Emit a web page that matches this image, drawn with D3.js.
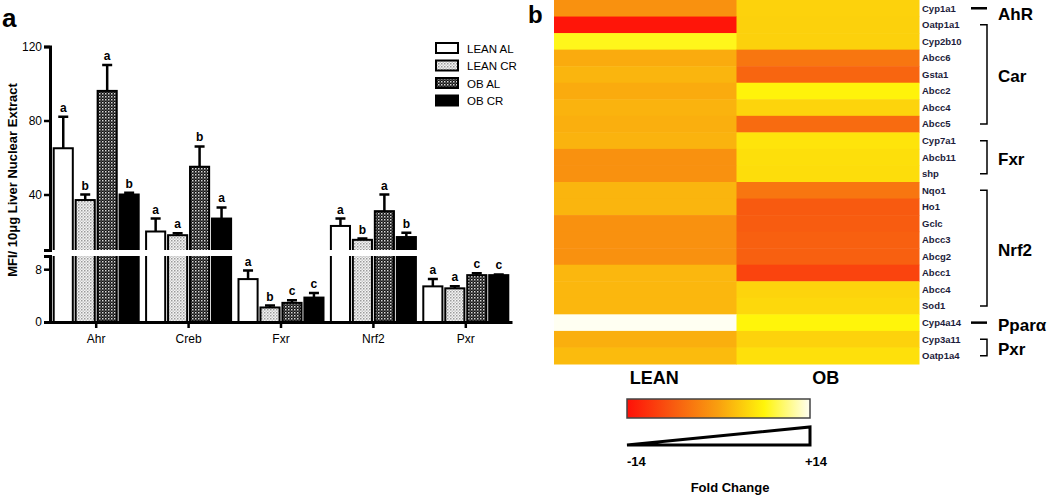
<!DOCTYPE html>
<html>
<head>
<meta charset="utf-8">
<script src="https://cdn.jsdelivr.net/npm/d3@7"></script>
<style>
  body { margin: 0; background: #fff; }
  svg { font-family: "Liberation Sans", Arial, sans-serif; }
</style>
</head>
<body>
<div class="chart"></div>
<script>
// panel a data
const categories = ["Ahr", "Creb", "Fxr", "Nrf2", "Pxr"];
const groups = ["LEAN AL", "LEAN CR", "OB AL", "OB CR"];
const leanAL = [65, 20, 6.5, 23, 5.4];
const leanCR = [37, 18, 2.2, 15.5, 5.1];
const obAL = [96, 55, 2.9, 31, 7.1];
const obCR = [40, 27, 3.7, 17, 7.1];
const leanALerr = [17, 7, 1.3, 4, 1.1];
const leanCRerr = [3, 1, 0.3, 0.7, 0.3];
const obALerr = [14, 11, 0.4, 9, 0.3];
const obCRerr = [1, 6, 0.7, 2.3, 0.1];
const letters = [
    ["a", "b", "a", "b"],
    ["a", "a", "b", "a"],
    ["a", "b", "c", "c"],
    ["a", "b", "a", "b"],
    ["a", "a", "c", "c"]
];
const lowTicks = [0, 8];
const highTicks = [40, 80, 120];

// panel b data
const genes = ["Cyp1a1", "Oatp1a1", "Cyp2b10", "Abcc6", "Gsta1", "Abcc2", "Abcc4", "Abcc5",
    "Cyp7a1", "Abcb11", "shp", "Nqo1", "Ho1", "Gclc", "Abcc3", "Abcg2", "Abcc1", "Abcc4 ",
    "Sod1", "Cyp4a14", "Cyp3a11", "Oatp1a4"];
const columns = ["LEAN", "OB"];
const leanFold = [-1.5, -13.5, 7.5, 0.9, 1.7, 0.9, 1.6, 1.2, 1.6, -1.5, -1.5, 1.7, 1.7, -1.5, -1.5, -1.5, 1.9, 1.9, 1.9, 14, 1.2, 2.2];
const obFold = [4.1, 4.0, 4.0, -4.2, -5.9, 6.8, 4.3, -5.3, 5.6, 5.2, 5.0, -4.2, -7.0, -6.8, -6.4, -6.4, -9.1, 4.3, 4.6, 7.0, 4.1, 5.3];
const receptors = ["AhR", "Car", "Fxr", "Nrf2", "Pparα", "Pxr"];
const receptorFirst = ["Cyp1a1", "Oatp1a1", "Cyp7a1", "Nqo1", "Cyp4a14", "Cyp3a11"];
const receptorLast = ["Cyp1a1", "Abcc5", "shp", "Sod1", "Cyp4a14", "Oatp1a4"];
const foldTicks = [-14, 14];

const width = 1050, height = 497;
const svg = d3.select('.chart').append('svg')
    .attr('width', width).attr('height', height);

const defs = svg.append('defs');
// light dotted fill (LEAN CR)
const p1 = defs.append('pattern').attr('id', 'dotLight')
    .attr('width', 3).attr('height', 3).attr('patternUnits', 'userSpaceOnUse');
p1.append('rect').attr('width', 3).attr('height', 3).attr('fill', '#f4f4f4');
p1.append('rect').attr('width', 1.5).attr('height', 1.5).attr('fill', '#9a9a9a');
p1.append('rect').attr('x', 1.5).attr('y', 1.5).attr('width', 1.5).attr('height', 1.5).attr('fill', '#c8c8c8');
// dark dotted fill (OB AL)
const p2 = defs.append('pattern').attr('id', 'dotDark')
    .attr('width', 3).attr('height', 3).attr('patternUnits', 'userSpaceOnUse');
p2.append('rect').attr('width', 3).attr('height', 3).attr('fill', '#111');
p2.append('rect').attr('width', 1.5).attr('height', 1.5).attr('fill', '#d8d8d8');
p2.append('rect').attr('x', 1.5).attr('y', 1.5).attr('width', 1.2).attr('height', 1.2).attr('fill', '#777');

const fills = ['#fff', 'url(#dotLight)', 'url(#dotDark)', '#000'];

// ---------- panel a ----------
svg.append('text').attr('x', 2).attr('y', 27).text('a')
    .style('font-size', '26px').style('font-weight', 'bold');

const xScale = d3.scaleBand().domain(categories).range([50, 512]).paddingInner(0.08).paddingOuter(0.04);
const xInner = d3.scaleBand().domain(groups).range([0, xScale.bandwidth()]).paddingInner(0.13);

const yLow = d3.scaleLinear().domain([0, 10]).range([322, 256]);
const yHigh = d3.scaleLinear().domain([10, 120]).range([250, 46.5]);
const y = v => v <= 10 ? yLow(v) : yHigh(v);

const means = [leanAL, leanCR, obAL, obCR];
const errs = [leanALerr, leanCRerr, obALerr, obCRerr];
const bars = [];
categories.forEach((c, i) => {
    groups.forEach((g, j) => {
        bars.push({cat: c, group: g, gi: j, value: means[j][i], err: errs[j][i], letter: letters[i][j]});
    });
});

const plot = svg.append('g');

plot.selectAll('.bar')
    .data(bars)
    .enter()
    .append('rect')
    .attr('x', d => xScale(d.cat) + xInner(d.group))
    .attr('y', d => y(d.value))
    .attr('width', xInner.bandwidth())
    .attr('height', d => y(0) - y(d.value))
    .attr('fill', d => fills[d.gi])
    .attr('stroke', '#000')
    .attr('stroke-width', 2);

// error bars
plot.selectAll('.err')
    .data(bars)
    .enter()
    .append('path')
    .attr('d', d => {
        const cx = xScale(d.cat) + xInner(d.group) + xInner.bandwidth() / 2;
        const t = y(d.value + d.err);
        return `M${cx},${y(d.value)}V${t}M${cx - 5},${t}H${cx + 5}`;
    })
    .attr('stroke', '#000')
    .attr('stroke-width', 2.5)
    .attr('fill', 'none');

plot.selectAll('.letter')
    .data(bars)
    .enter()
    .append('text')
    .attr('x', d => xScale(d.cat) + xInner(d.group) + xInner.bandwidth() / 2)
    .attr('y', d => y(d.value + d.err) - 5)
    .attr('text-anchor', 'middle')
    .style('font-size', '12px')
    .style('font-weight', 'bold')
    .text(d => d.letter);

// axis break gap
plot.append('rect')
    .attr('x', 44).attr('y', yHigh(10)).attr('width', 472).attr('height', yLow(10) - yHigh(10))
    .attr('fill', '#fff');

const axLow = svg.append('g').attr('transform', 'translate(50,0)')
    .call(d3.axisLeft(yLow).tickValues(lowTicks).tickSize(6).tickSizeOuter(6));
const axHigh = svg.append('g').attr('transform', 'translate(50,0)')
    .call(d3.axisLeft(yHigh).tickValues(highTicks).tickSize(6).tickSizeOuter(6));
[axLow, axHigh].forEach(ax => {
    ax.select('.domain').attr('stroke-width', 3);
    ax.selectAll('.tick line').attr('stroke-width', 2.5);
    ax.selectAll('.tick text').style('font-size', '12px').attr('x', -8)
        .style('font-family', '"Liberation Sans", Arial, sans-serif');
});

const xAx = svg.append('g').attr('transform', `translate(0,${y(0)})`)
    .call(d3.axisBottom(xScale).tickSize(6).tickSizeOuter(0));
xAx.select('.domain').attr('stroke-width', 3);
xAx.selectAll('.tick line').attr('stroke-width', 2.5);
xAx.selectAll('.tick text').style('font-size', '12px').attr('y', 12)
    .style('font-family', '"Liberation Sans", Arial, sans-serif');

svg.append('text')
    .attr('transform', 'translate(17,180) rotate(-90)')
    .attr('text-anchor', 'middle')
    .style('font-size', '13px').style('font-weight', 'bold')
    .text('MFI/ 10μg Liver Nuclear Extract');

// legend
const legend = svg.append('g');
legend.selectAll('rect')
    .data(groups)
    .enter()
    .append('rect')
    .attr('x', 436)
    .attr('y', (d, i) => 43 + i * 17.5)
    .attr('width', 22).attr('height', 10)
    .attr('fill', (d, i) => fills[i])
    .attr('stroke', '#000').attr('stroke-width', 2);
legend.selectAll('text')
    .data(groups)
    .enter()
    .append('text')
    .attr('x', 467)
    .attr('y', (d, i) => 52.5 + i * 17.5)
    .style('font-size', '11.5px')
    .text(d => d);

// ---------- panel b ----------
svg.append('text').attr('x', 528).attr('y', 23).text('b')
    .style('font-size', '24px').style('font-weight', 'bold');

const colorScale = d3.scaleLinear()
    .domain([-14, -7, 0, 7, 14])
    .range(['#ff1008', '#f85a10', '#f9a00f', '#fff50a', '#fffff2']);

const hx = d3.scaleBand().domain(columns).range([554, 919]);
const hy = d3.scaleBand().domain(genes).range([0, 364]);

const cells = [];
genes.forEach((g, i) => {
    cells.push({col: 'LEAN', gene: g, v: leanFold[i]});
    cells.push({col: 'OB', gene: g, v: obFold[i]});
});

svg.selectAll('.cell')
    .data(cells)
    .enter()
    .append('rect')
    .attr('x', d => hx(d.col))
    .attr('y', d => hy(d.gene))
    .attr('width', hx.bandwidth() + 0.5)
    .attr('height', hy.bandwidth() + 0.5)
    .attr('fill', d => colorScale(d.v));

svg.selectAll('.gene')
    .data(genes)
    .enter()
    .append('text')
    .attr('x', 922)
    .attr('y', d => hy(d) + hy.bandwidth() / 2)
    .attr('dy', '0.35em')
    .style('font-size', '9.5px').style('font-weight', 'bold')
    .attr('fill', '#1c1c3a')
    .text(d => d.trim());

svg.selectAll('.col')
    .data(columns)
    .enter()
    .append('text')
    .attr('x', d => hx(d) + hx.bandwidth() / 2 + (d === 'LEAN' ? 9 : -2))
    .attr('y', 384)
    .attr('text-anchor', 'middle')
    .style('font-size', '18px').style('font-weight', 'bold')
    .text(d => d);

// receptor brackets
receptors.forEach((r, i) => {
    const y0 = hy(receptorFirst[i]) + hy.bandwidth() / 2;
    const y1 = hy(receptorLast[i]) + hy.bandwidth() / 2;
    if (receptorFirst[i] === receptorLast[i]) {
        svg.append('line').attr('x1', 971).attr('x2', 987).attr('y1', y0).attr('y2', y0)
            .attr('stroke', '#000').attr('stroke-width', 2.5);
    } else {
        svg.append('path')
            .attr('d', `M980,${y0}H987V${y1}H980`)
            .attr('fill', 'none').attr('stroke', '#000').attr('stroke-width', 1.5);
    }
    svg.append('text')
        .attr('x', 998)
        .attr('y', (y0 + y1) / 2 + (i === 0 ? 6 : 2))
        .attr('dy', '0.35em')
        .style('font-size', '17px').style('font-weight', 'bold')
        .text(r);
});

// colour legend
const grad = defs.append('linearGradient').attr('id', 'foldGrad');
colorScale.domain().forEach(v => {
    grad.append('stop')
        .attr('offset', ((v + 14) / 28 * 100) + '%')
        .attr('stop-color', colorScale(v));
});
const lx = d3.scaleLinear().domain([-14, 14]).range([627, 810]);
svg.append('rect')
    .attr('x', lx(-14)).attr('y', 399)
    .attr('width', lx(14) - lx(-14)).attr('height', 19)
    .attr('fill', 'url(#foldGrad)')
    .attr('stroke', '#444').attr('stroke-width', 1.5);
svg.append('path')
    .attr('d', `M${lx(-14)},445L${lx(14)},445L${lx(14)},427Z`)
    .attr('fill', '#fff').attr('stroke', '#000').attr('stroke-width', 3)
    .attr('stroke-linejoin', 'miter');
svg.selectAll('.ftick')
    .data(foldTicks)
    .enter()
    .append('text')
    .attr('x', d => d < 0 ? lx(d) : lx(d) + 6)
    .attr('y', 466)
    .attr('text-anchor', d => d < 0 ? 'start' : 'middle')
    .style('font-size', '13px').style('font-weight', 'bold')
    .text(d => d < 0 ? String(d) : '+' + d);
svg.append('text')
    .attr('x', 730).attr('y', 492)
    .attr('text-anchor', 'middle')
    .style('font-size', '13px').style('font-weight', 'bold')
    .text('Fold Change');
</script>
</body>
</html>
